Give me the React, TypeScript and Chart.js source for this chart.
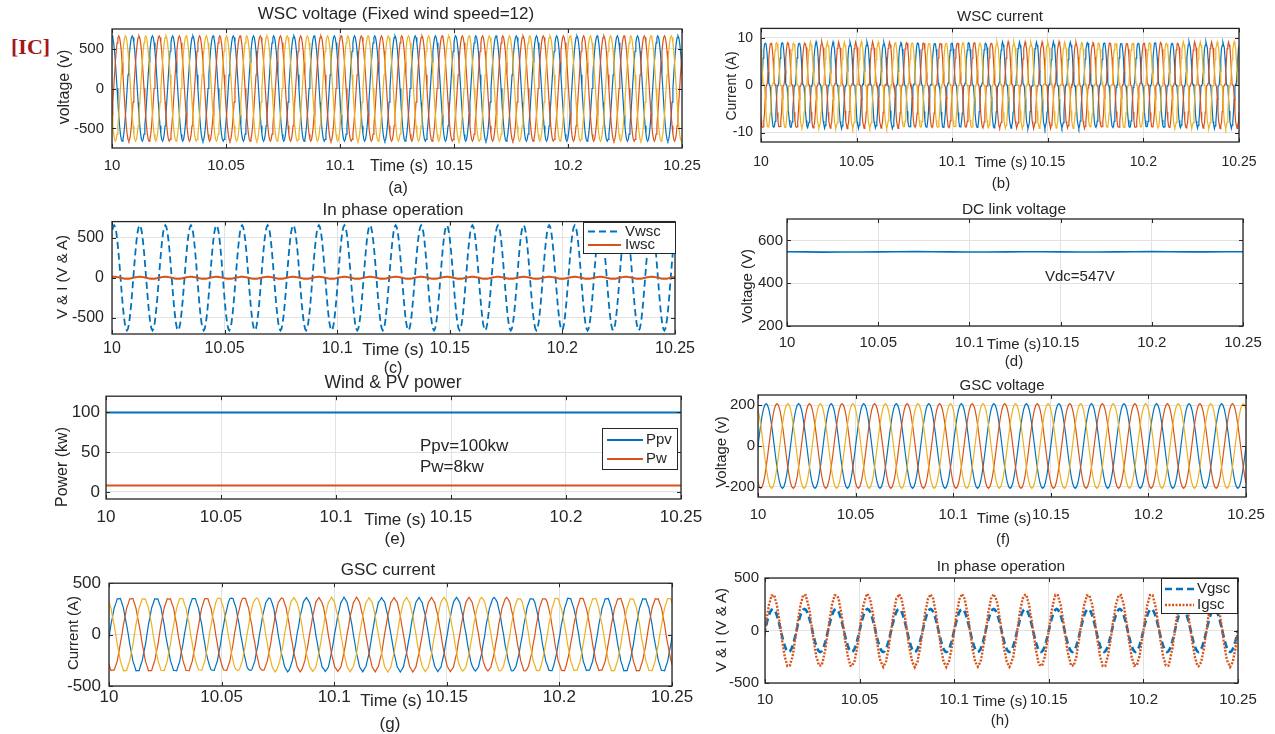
import React, { useEffect, useRef } from 'react';
import { Chart, registerables } from 'chart.js';

Chart.register(...registerables);

const FONT = '"Liberation Sans", Arial, Helvetica, sans-serif';
const INK = '#262626';
const GRID = '#e2e2e2';
const BLUE = '#0072BD';
const ORANGE = '#D95319';
const YELLOW = '#EDB120';

// ---------------- data ----------------
const timeStart = 10;
const timeEnd = 10.25;
const timeTicks = [10, 10.05, 10.1, 10.15, 10.2, 10.25];
const timeTickLabels = ['10', '10.05', '10.1', '10.15', '10.2', '10.25'];

// one cycle of a clean sinusoid, 24 samples (15 degree steps)
const sineCycle = [0, 0.259, 0.5, 0.707, 0.866, 0.966, 1, 0.966, 0.866, 0.707, 0.5, 0.259,
  0, -0.259, -0.5, -0.707, -0.866, -0.966, -1, -0.966, -0.866, -0.707, -0.5, -0.259];
// one cycle of the WSC phase current: short dwell at zero, steep flanks
const wscCurrentCycle = [0, 0.03, 0.3, 0.62, 0.84, 0.95, 1, 0.96, 0.86, 0.64, 0.32, 0.04,
  0, -0.03, -0.3, -0.62, -0.84, -0.95, -1, -0.96, -0.86, -0.64, -0.32, -0.04];

// (a) WSC voltage
const wscVoltFreq = 112.8;
const wscVoltAmp = [660, 660, 660];
const wscVoltPhase = [90, -30, 210];
// (b) WSC current
const wscCurFreq = 112.8;
const wscCurAmp = [9, 9, 9];
const wscCurPhase = [0, -120, 120];
const wscCurRipple = [0, 0.2, -0.1, 0.15, -0.2, 0.1, -0.15, 0.2, -0.05, 0.1, -0.15];
// (c) in-phase WSC
const vwscFreq = 88;
const vwscAmp = 655;
const vwscPhase = 60;
const iwscAmp = 12;
// (d) DC link voltage
const dcLinkTimes = [10, 10.01, 10.02, 10.03, 10.04, 10.05, 10.06, 10.07, 10.08, 10.09, 10.1, 10.11, 10.12,
  10.13, 10.14, 10.15, 10.16, 10.17, 10.18, 10.19, 10.2, 10.21, 10.22, 10.23, 10.24, 10.25];
const dcLinkVolts = [547, 546.5, 545, 545.5, 546, 546.5, 547, 547.5, 547, 546.5, 546, 546, 546.5,
  547, 547, 546.5, 546, 546, 546.5, 547, 547.5, 547, 546.5, 546.5, 547, 547];
// (e) Wind & PV power
const powerTimes = [10, 10.05, 10.1, 10.15, 10.2, 10.25];
const pvPower = [100, 99.9, 100, 100.1, 99.9, 100];
const windPower = [8, 8, 8, 8, 8, 8];
// (f) GSC voltage
const gscVoltFreq = 60;
const gscVoltAmp = [208, 208, 208];
const gscVoltPhase = [0, -120, 120];
// (g) GSC current
const gscCurFreq = 60;
const gscCurAmp = [355, 355, 355];
const gscCurPhase = [-4, -124, 116];
const gscCurRipple = [0, 8, -5, 6, -9, 4, -7, 9, -3, 5, -8, 2, 7];
// (h) in-phase GSC
const gscPhaseFreq = 60;
const vgscAmp = 205;
const igscAmp = 340;
const igscRipple = [0, 10, -7, 6, -9, 5, -8, 9, -4, 7, -6];

type Pt = { x: number; y: number };

function buildWave(freq: number, phaseDeg: number, amp: number, cycle: number[], ripple: number[] = [0]): Pt[] {
  const n = cycle.length;
  const offset = (phaseDeg / 360) * n;
  const pts: Pt[] = [];
  for (let j = Math.floor(offset) - n; ; j++) {
    const t = timeStart + (j - offset) / n / freq;
    if (t > timeEnd + 1 / freq) break;
    const idx = ((j % n) + n) % n;
    const r = ripple[((j % ripple.length) + ripple.length) % ripple.length];
    pts.push({ x: t, y: amp * cycle[idx] + r });
  }
  return pts;
}

function pairs(xs: number[], ys: number[]): Pt[] {
  return xs.map((x, i) => ({ x, y: ys[i] }));
}

const phaseColors = [BLUE, ORANGE, YELLOW];

function threePhase(freq: number, amps: number[], phases: number[], cycle: number[], ripple?: number[], width = 1.2) {
  return amps.map((a, i) => ({
    data: buildWave(freq, phases[i], a, cycle, ripple),
    borderColor: phaseColors[i],
    borderWidth: width,
  }));
}

// ---------------- layout ----------------
const PAD_L = 60, PAD_T = 14, PAD_R = 34, PAD_B = 36;

interface Legend { box: number[]; rows: number[]; lineX: number[]; textX: number; font: number; items: { label: string; ds: number }[] }
interface Note { text: string; x: number; y: number; align: CanvasTextAlign; font: number }
interface Txt { text: string; x: number; y: number; size: number; rot?: boolean }
interface PanelSpec {
  key: string;
  frame: { l: number; t: number; r: number; b: number };
  yMin: number; yMax: number; yTicks: number[]; yTickLabels: string[];
  tickFont: number; xLabelY: number; yPad: number;
  datasets: any[];
  legend?: Legend;
  notes?: Note[];
  texts: Txt[];
}

const panels: PanelSpec[] = [
  {
    key: 'a', frame: { l: 112, t: 26, r: 682, b: 148 },
    yMin: -745, yMax: 745, yTicks: [-500, 0, 500], yTickLabels: ['-500', '0', '500'],
    tickFont: 15, xLabelY: 166, yPad: 8,
    datasets: threePhase(wscVoltFreq, wscVoltAmp, wscVoltPhase, sineCycle),
    texts: [
      { text: 'WSC voltage (Fixed wind speed=12)', x: 396, y: 13, size: 17 },
      { text: 'voltage (v)', x: 64, y: 87, size: 16, rot: true },
      { text: 'Time (s)', x: 399, y: 166, size: 16 },
      { text: '(a)', x: 398, y: 188, size: 16 },
    ],
  },
  {
    key: 'b', frame: { l: 761, t: 26, r: 1239, b: 142 },
    yMin: -12, yMax: 12, yTicks: [-10, 0, 10], yTickLabels: ['-10', '0', '10'],
    tickFont: 14, xLabelY: 162, yPad: 8,
    datasets: threePhase(wscCurFreq, wscCurAmp, wscCurPhase, wscCurrentCycle, wscCurRipple),
    texts: [
      { text: 'WSC current', x: 1000, y: 15, size: 15 },
      { text: 'Current (A)', x: 731, y: 86, size: 14, rot: true },
      { text: 'Time (s)', x: 1001, y: 162, size: 14.5 },
      { text: '(b)', x: 1001, y: 182, size: 15 },
    ],
  },
  {
    key: 'c', frame: { l: 112, t: 218, r: 675, b: 334 },
    yMin: -700, yMax: 700, yTicks: [-500, 0, 500], yTickLabels: ['-500', '0', '500'],
    tickFont: 16, xLabelY: 349, yPad: 8,
    datasets: [
      { data: buildWave(vwscFreq, vwscPhase, vwscAmp, sineCycle), borderColor: BLUE, borderWidth: 1.8, borderDash: [7, 4] },
      { data: buildWave(vwscFreq, vwscPhase, iwscAmp, sineCycle), borderColor: ORANGE, borderWidth: 2 },
    ],
    legend: {
      box: [583, 222, 675, 253], rows: [231.5, 245], lineX: [588, 621], textX: 625, font: 15,
      items: [{ label: 'Vwsc', ds: 0 }, { label: 'Iwsc', ds: 1 }],
    },
    texts: [
      { text: 'In phase operation', x: 393, y: 209, size: 17 },
      { text: 'V & I (V & A)', x: 61, y: 277, size: 15, rot: true },
      { text: 'Time (s)', x: 393, y: 349, size: 17 },
      { text: '(c)', x: 393, y: 368, size: 16 },
    ],
  },
  {
    key: 'd', frame: { l: 787, t: 219, r: 1243, b: 326 },
    yMin: 200, yMax: 700, yTicks: [200, 400, 600], yTickLabels: ['200', '400', '600'],
    tickFont: 15, xLabelY: 343, yPad: 4,
    datasets: [{ data: pairs(dcLinkTimes, dcLinkVolts), borderColor: BLUE, borderWidth: 1.6 }],
    notes: [{ text: 'Vdc=547V', x: 1045, y: 277, align: 'left', font: 15 }],
    texts: [
      { text: 'DC link voltage', x: 1014, y: 209, size: 15.5 },
      { text: 'Voltage (V)', x: 746, y: 286, size: 15, rot: true },
      { text: 'Time (s)', x: 1014, y: 343, size: 15 },
      { text: '(d)', x: 1014, y: 360, size: 15 },
    ],
  },
  {
    key: 'e', frame: { l: 106, t: 394, r: 681, b: 499 },
    yMin: -9, yMax: 120.5, yTicks: [0, 50, 100], yTickLabels: ['0', '50', '100'],
    tickFont: 17, xLabelY: 517, yPad: 6,
    datasets: [
      { data: pairs(powerTimes, pvPower), borderColor: BLUE, borderWidth: 2 },
      { data: pairs(powerTimes, windPower), borderColor: ORANGE, borderWidth: 2 },
    ],
    legend: {
      box: [602, 428, 677, 469], rows: [440, 459], lineX: [607, 643], textX: 646, font: 15,
      items: [{ label: 'Ppv', ds: 0 }, { label: 'Pw', ds: 1 }],
    },
    notes: [
      { text: 'Ppv=100kw', x: 420, y: 446, align: 'left', font: 17 },
      { text: 'Pw=8kw', x: 420, y: 467, align: 'left', font: 17 },
    ],
    texts: [
      { text: 'Wind & PV power', x: 393, y: 383, size: 17.5 },
      { text: 'Power (kw)', x: 62, y: 467, size: 16, rot: true },
      { text: 'Time (s)', x: 395, y: 519, size: 17 },
      { text: '(e)', x: 395, y: 538, size: 17 },
    ],
  },
  {
    key: 'f', frame: { l: 758, t: 395, r: 1246, b: 497 },
    yMin: -250, yMax: 250, yTicks: [-200, 0, 200], yTickLabels: ['-200', '0', '200'],
    tickFont: 15, xLabelY: 515, yPad: 3,
    datasets: threePhase(gscVoltFreq, gscVoltAmp, gscVoltPhase, sineCycle),
    texts: [
      { text: 'GSC voltage', x: 1002, y: 384, size: 15 },
      { text: 'Voltage (v)', x: 720, y: 452, size: 15, rot: true },
      { text: 'Time (s)', x: 1004, y: 517, size: 15 },
      { text: '(f)', x: 1003, y: 538, size: 15 },
    ],
  },
  {
    key: 'g', frame: { l: 109, t: 579, r: 672, b: 686 },
    yMin: -500, yMax: 500, yTicks: [-500, 0, 500], yTickLabels: ['-500', '0', '500'],
    tickFont: 17, xLabelY: 697, yPad: 8,
    datasets: threePhase(gscCurFreq, gscCurAmp, gscCurPhase, sineCycle, gscCurRipple),
    texts: [
      { text: 'GSC current', x: 388, y: 569, size: 17 },
      { text: 'Current (A)', x: 72, y: 633, size: 15, rot: true },
      { text: 'Time (s)', x: 391, y: 700, size: 17 },
      { text: '(g)', x: 390, y: 723, size: 17 },
    ],
  },
  {
    key: 'h', frame: { l: 765, t: 577, r: 1238, b: 683 },
    yMin: -500, yMax: 500, yTicks: [-500, 0, 500], yTickLabels: ['-500', '0', '500'],
    tickFont: 15, xLabelY: 700, yPad: 6,
    datasets: [
      { data: buildWave(gscPhaseFreq, 0, vgscAmp, sineCycle), borderColor: BLUE, borderWidth: 2.6, borderDash: [7, 4] },
      { data: buildWave(gscPhaseFreq, 0, igscAmp, sineCycle, igscRipple), borderColor: ORANGE, borderWidth: 2.4, borderDash: [2, 1.5] },
    ],
    legend: {
      box: [1161, 578, 1237, 613], rows: [589, 605], lineX: [1165, 1194], textX: 1197, font: 15,
      items: [{ label: 'Vgsc', ds: 0 }, { label: 'Igsc', ds: 1 }],
    },
    texts: [
      { text: 'In phase operation', x: 1001, y: 566, size: 15.5 },
      { text: 'V & I (V & A)', x: 720, y: 630, size: 15, rot: true },
      { text: 'Time (s)', x: 1000, y: 700, size: 15 },
      { text: '(h)', x: 1000, y: 719, size: 15 },
    ],
  },
];

function labelFor(values: number[], labels: string[], v: number) {
  const i = values.findIndex((x) => Math.abs(x - v) < 1e-9);
  return i >= 0 ? labels[i] : '';
}

function makePlugin(spec: PanelSpec, ox: number, oy: number) {
  return {
    id: 'matlabAxes' + spec.key,
    afterDraw(chart: any) {
      const { ctx, chartArea: a, scales } = chart;
      ctx.save();
      ctx.setLineDash([]);
      ctx.strokeStyle = INK;
      ctx.lineWidth = 1;
      const tl = 4;
      ctx.beginPath();
      for (const tk of scales.x.ticks) {
        const px = Math.round(scales.x.getPixelForValue(tk.value)) + 0.5;
        ctx.moveTo(px, a.bottom); ctx.lineTo(px, a.bottom - tl);
        ctx.moveTo(px, a.top); ctx.lineTo(px, a.top + tl);
      }
      for (const tk of scales.y.ticks) {
        const py = Math.round(scales.y.getPixelForValue(tk.value)) + 0.5;
        ctx.moveTo(a.left, py); ctx.lineTo(a.left + tl, py);
        ctx.moveTo(a.right, py); ctx.lineTo(a.right - tl, py);
      }
      ctx.stroke();
      ctx.lineWidth = 1.3;
      ctx.strokeRect(a.left, a.top, a.right - a.left, a.bottom - a.top);

      if (spec.notes) {
        for (const n of spec.notes) {
          ctx.font = `${n.font}px ${FONT}`;
          ctx.fillStyle = INK;
          ctx.textAlign = n.align;
          ctx.textBaseline = 'middle';
          ctx.fillText(n.text, n.x - ox, n.y - oy);
        }
      }
      const lg = spec.legend;
      if (lg) {
        const [x0, y0, x1, y1] = lg.box;
        ctx.fillStyle = '#ffffff';
        ctx.fillRect(x0 - ox, y0 - oy, x1 - x0, y1 - y0);
        ctx.strokeStyle = INK;
        ctx.lineWidth = 1;
        ctx.setLineDash([]);
        ctx.strokeRect(x0 - ox + 0.5, y0 - oy + 0.5, x1 - x0, y1 - y0);
        lg.items.forEach((it, i) => {
          const ds = chart.data.datasets[it.ds];
          ctx.strokeStyle = ds.borderColor;
          ctx.lineWidth = ds.borderWidth;
          ctx.setLineDash(ds.borderDash || []);
          ctx.beginPath();
          ctx.moveTo(lg.lineX[0] - ox, lg.rows[i] - oy);
          ctx.lineTo(lg.lineX[1] - ox, lg.rows[i] - oy);
          ctx.stroke();
          ctx.setLineDash([]);
          ctx.font = `${lg.font}px ${FONT}`;
          ctx.fillStyle = INK;
          ctx.textAlign = 'left';
          ctx.textBaseline = 'middle';
          ctx.fillText(it.label, lg.textX - ox, lg.rows[i] - oy);
        });
      }
      ctx.restore();
    },
  };
}

function Panel({ spec }: { spec: PanelSpec }) {
  const ref = useRef<HTMLCanvasElement>(null);
  const { l, t, r, b } = spec.frame;
  const ox = l - PAD_L;
  const oy = t - PAD_T;
  const w = r - l + PAD_L + PAD_R;
  const h = b - t + PAD_T + PAD_B;
  useEffect(() => {
    const tickFont = { family: FONT, size: spec.tickFont };
    const xPad = spec.xLabelY - b - spec.tickFont * 0.6;
    const chart = new Chart(ref.current as HTMLCanvasElement, {
      type: 'line',
      data: {
        datasets: spec.datasets.map((d, i) => ({
          pointRadius: 0, fill: false, tension: 0, order: -i, ...d,
        })),
      },
      options: {
        animation: false,
        responsive: false,
        maintainAspectRatio: false,
        devicePixelRatio: 1,
        events: [],
        layout: { padding: { left: 0, top: PAD_T, right: PAD_R, bottom: 0 } },
        plugins: { legend: { display: false }, title: { display: false }, tooltip: { enabled: false } },
        scales: {
          x: {
            type: 'linear', min: timeStart, max: timeEnd,
            afterBuildTicks: (s: any) => { s.ticks = timeTicks.map((v) => ({ value: v })); },
            afterFit: (s: any) => { s.height = PAD_B; },
            ticks: {
              autoSkip: false, maxRotation: 0, minRotation: 0, padding: xPad, color: INK, font: tickFont,
              callback: (v: any) => labelFor(timeTicks, timeTickLabels, Number(v)),
            },
            grid: { color: GRID, drawTicks: false, lineWidth: 1 },
            border: { display: false },
          },
          y: {
            type: 'linear', min: spec.yMin, max: spec.yMax,
            afterBuildTicks: (s: any) => { s.ticks = spec.yTicks.map((v) => ({ value: v })); },
            afterFit: (s: any) => { s.width = PAD_L; },
            ticks: {
              padding: spec.yPad, color: INK, font: tickFont,
              callback: (v: any) => labelFor(spec.yTicks, spec.yTickLabels, Number(v)),
            },
            grid: { color: GRID, drawTicks: false, lineWidth: 1 },
            border: { display: false },
          },
        },
      } as any,
      plugins: [makePlugin(spec, ox, oy)],
    });
    return () => chart.destroy();
  }, []);
  return (
    <canvas
      ref={ref}
      width={w}
      height={h}
      style={{ position: 'absolute', left: ox, top: oy, width: w, height: h }}
    />
  );
}

function TextLabel({ t }: { t: Txt }) {
  return (
    <div
      style={{
        position: 'absolute', left: t.x, top: t.y, whiteSpace: 'nowrap', lineHeight: 1,
        fontFamily: FONT, fontSize: t.size, color: INK,
        transform: `translate(-50%, -50%)${t.rot ? ' rotate(-90deg)' : ''}`,
      }}
    >
      {t.text}
    </div>
  );
}

export default function App() {
  return (
    <div style={{ position: 'absolute', left: 0, top: 0, width: 1275, height: 734, background: '#ffffff', overflow: 'hidden' }}>
      {panels.map((p) => <Panel key={p.key} spec={p} />)}
      {panels.map((p) => p.texts.map((t, i) => <TextLabel key={p.key + i} t={t} />))}
      <div
        style={{
          position: 'absolute', left: 11, top: 36, fontFamily: '"Liberation Serif", "DejaVu Serif", serif',
          fontWeight: 'bold', fontSize: 22, color: '#a31919', lineHeight: 1,
        }}
      >
        [IC]
      </div>
    </div>
  );
}
